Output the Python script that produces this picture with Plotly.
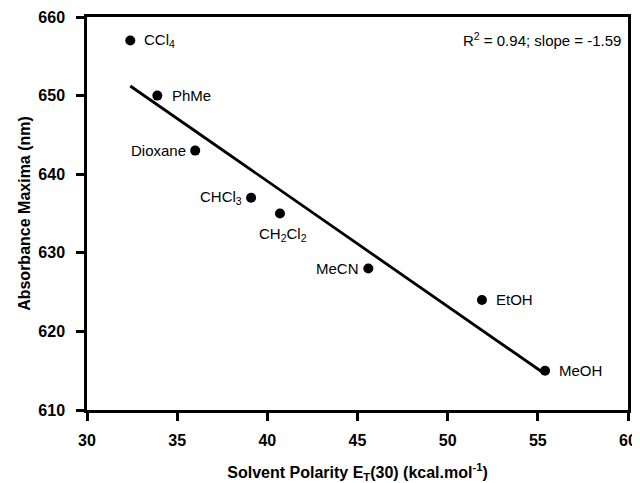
import numpy as np
import plotly.graph_objects as go

solvents = ["CCl<sub>4</sub>", "PhMe", "Dioxane", "CHCl<sub>3</sub>", "CH<sub>2</sub>Cl<sub>2</sub>", "MeCN", "EtOH", "MeOH"]
et30 = [32.4, 33.9, 36.0, 39.1, 40.7, 45.6, 51.9, 55.4]
abs_max = [657, 650, 643, 637, 635, 628, 624, 615]
x_ticks = [30, 35, 40, 45, 50, 55, 60]
y_ticks = [610, 620, 630, 640, 650, 660]

slope, intercept = np.polyfit(et30, abs_max, 1)
x_fit = [min(et30), max(et30)]
y_fit = [slope * v + intercept for v in x_fit]

FONT = "Liberation Sans, Arial, sans-serif"

fig = go.Figure()
fig.add_trace(go.Scatter(x=x_fit, y=y_fit, mode="lines",
                         line=dict(color="black", width=2.8), showlegend=False, hoverinfo="skip"))
fig.add_trace(go.Scatter(x=et30, y=abs_max, mode="markers",
                         marker=dict(color="black", size=10), showlegend=False))

# label placement: (xshift, yshift, xanchor)
placements = [(12, 0, "left"), (13, 0, "left"), (-7, 0, "right"), (-7, 0, "right"),
              (3, -21, "center"), (-7, 0, "right"), (12, 0, "left"), (12, 0, "left")]
for name, xv, yv, (dx, dy, xa) in zip(solvents, et30, abs_max, placements):
    fig.add_annotation(x=xv, y=yv, text=name, showarrow=False, xanchor=xa, yanchor="middle",
                       xshift=dx, yshift=dy, font=dict(family=FONT, size=15, color="black"))

fig.add_annotation(xref="paper", yref="paper", x=0.99, y=0.944, xanchor="right", yanchor="middle",
                   text="R<sup>2</sup> = 0.94; slope = -1.59", showarrow=False,
                   font=dict(family=FONT, size=15, color="black"))

axis_common = dict(showgrid=False, zeroline=False, showline=True, linecolor="black", linewidth=2.5,
                   mirror=True, ticks="outside", ticklen=8, tickwidth=2.5, tickcolor="black",
                   automargin=False,
                   tickfont=dict(family=FONT, size=16, color="black", weight="bold"))

# page body adds an 8px offset, so the figure is slightly smaller than the window
fig.update_layout(
    width=632, height=475,
    margin=dict(l=79, r=12, t=9, b=73),
    paper_bgcolor="white", plot_bgcolor="white",
    xaxis=dict(range=[30, 60], tickvals=x_ticks, ticklabelstandoff=6,
               title=dict(text="Solvent Polarity E<sub>T</sub>(30) (kcal.mol<sup>-1</sup>)",
                          font=dict(family=FONT, size=16, color="black", weight="bold"), standoff=22),
               **axis_common),
    yaxis=dict(range=[610, 660], tickvals=y_ticks, ticklabelstandoff=8,
               title=dict(text="Absorbance Maxima (nm)",
                          font=dict(family=FONT, size=16, color="black", weight="bold"), standoff=4),
               **axis_common),
)

fig.write_html("out.html")
